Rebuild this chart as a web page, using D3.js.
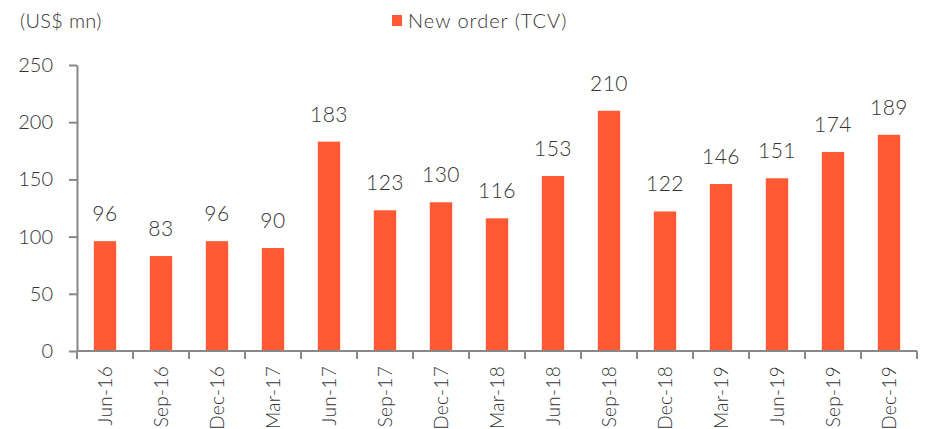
<!DOCTYPE html>
<html>
<head>
<meta charset="utf-8">
<script src="https://cdn.jsdelivr.net/npm/d3@7"></script>
<style>
  body { margin: 0; background: #fff; }
  svg text { font-family: Lato, "Open Sans", sans-serif; font-weight: 300; fill: #333; }
</style>
</head>
<body>
<svg></svg>
<script>
// Quarterly new order values (TCV), US$ mn
const quarters = ["Jun-16", "Sep-16", "Dec-16", "Mar-17", "Jun-17", "Sep-17", "Dec-17", "Mar-18",
                  "Jun-18", "Sep-18", "Dec-18", "Mar-19", "Jun-19", "Sep-19", "Dec-19"];
const newOrder = [96, 83, 96, 90, 183, 123, 130, 116, 153, 210, 122, 146, 151, 174, 189];
const yTicks = [0, 50, 100, 150, 200, 250];

const width = 925;
const height = 429;
const marginTop = 65;
const marginRight = 8;
const marginBottom = 78;
const marginLeft = 77;

const svg = d3.select("svg")
    .attr("width", width)
    .attr("height", height)
    .attr("viewBox", [0, 0, width, height]);

const x = d3.scaleBand(quarters, [marginLeft, width - marginRight]).paddingInner(0.6).paddingOuter(0.3);
const y = d3.scaleLinear([0, 250], [height - marginBottom, marginTop]);

// bars
svg.append("g")
    .attr("fill", "#ff5a33")
  .selectAll("rect")
  .data(quarters)
  .join("rect")
    .attr("x", d => x(d))
    .attr("y", (d, i) => y(newOrder[i]))
    .attr("width", x.bandwidth())
    .attr("height", (d, i) => y(0) - y(newOrder[i]));

// value labels
svg.append("g")
  .selectAll("text")
  .data(quarters)
  .join("text")
    .attr("x", d => x(d) + x.bandwidth() / 2)
    .attr("y", (d, i) => y(newOrder[i]) - 20)
    .attr("text-anchor", "middle")
    .attr("font-size", 21)
    .attr("letter-spacing", 0.5)
    .text((d, i) => newOrder[i]);

// x axis: ticks between categories
const xBoundaries = d3.range(quarters.length + 1).map(i => marginLeft + i * (width - marginRight - marginLeft) / quarters.length);
const gx = svg.append("g");
gx.append("line")
    .attr("x1", marginLeft).attr("x2", width - marginRight)
    .attr("y1", y(0)).attr("y2", y(0))
    .attr("stroke", "#888").attr("stroke-width", 2);
gx.selectAll(".tk")
  .data(xBoundaries)
  .join("line")
    .attr("x1", d => d).attr("x2", d => d)
    .attr("y1", y(0)).attr("y2", y(0) + 8)
    .attr("stroke", "#888").attr("stroke-width", 2);
gx.selectAll("text")
  .data(quarters)
  .join("text")
    .attr("transform", d => `translate(${x(d) + x.bandwidth() / 2 + 7},${y(0) + 15}) rotate(-90)`)
    .attr("text-anchor", "end")
    .attr("font-size", 19)
    .attr("letter-spacing", 0.3)
    .text(d => d);

// y axis
svg.append("g")
    .attr("transform", `translate(${marginLeft},0)`)
    .call(d3.axisLeft(y).tickValues(yTicks).tickSize(8).tickPadding(16).tickSizeOuter(0))
    .call(g => g.selectAll("path, line").attr("stroke", "#888").attr("stroke-width", 2))
    .call(g => g.selectAll("text").attr("font-size", 20).attr("fill", "#333"));

// axis title
svg.append("text")
    .attr("x", 20).attr("y", 28)
    .attr("font-size", 20)
    .attr("letter-spacing", 0.3)
    .text("(US$ mn)");

// legend
svg.append("rect")
    .attr("x", 392).attr("y", 15).attr("width", 10).attr("height", 11)
    .attr("fill", "#ff5a33");
svg.append("text")
    .attr("x", 408).attr("y", 28)
    .attr("font-size", 20)
    .attr("letter-spacing", 1)
    .text("New order (TCV)");
</script>
</body>
</html>
